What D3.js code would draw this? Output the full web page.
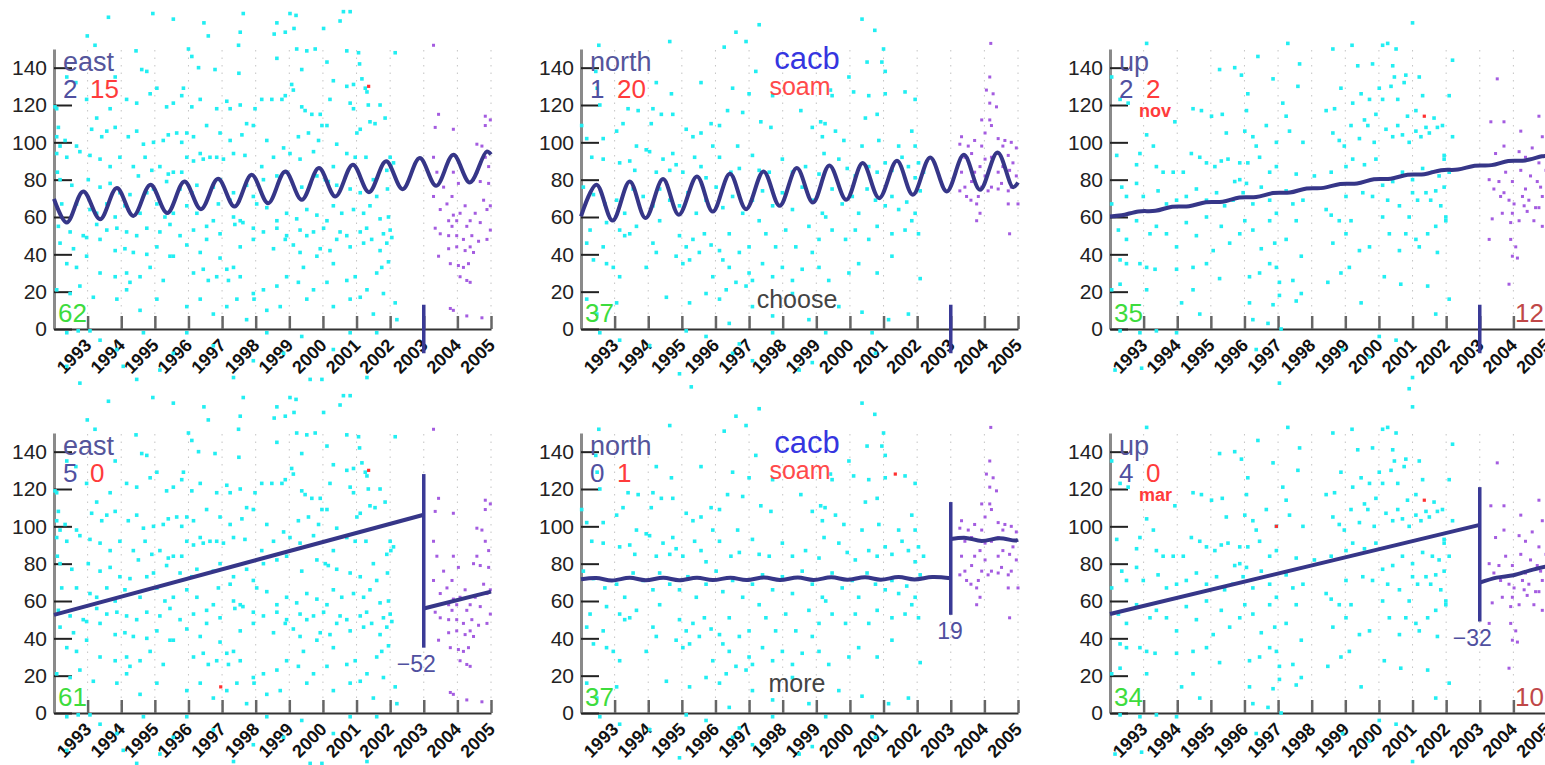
<!DOCTYPE html>
<html>
<head>
<meta charset="utf-8">
<script src="https://cdn.jsdelivr.net/npm/d3@7"></script>
<style>
  body { margin: 0; background: #fff; }
  svg { display: block; font-family: "Liberation Sans", Arial, sans-serif; }
</style>
</head>
<body>
<svg width="1545" height="765"></svg>
<script>
// tick labels
var yearTicks = [1993, 1994, 1995, 1996, 1997, 1998, 1999, 2000, 2001, 2002, 2003, 2004, 2005];
var valueTicks = [0, 20, 40, 60, 80, 100, 120, 140];

// east observations [decimal year, mm]
var eastCyan = [
  [1993.62,167],[1994.94,169],[1995.55,166],[1996.46,164],[1997.63,169],[1996.59,157],[1997.54,159],[1992.99,157],[1993.22,152],[1994.44,149],[1996.0,150],[1996.1,146],[1994.61,139],[1994.76,138],[1996.3,140],[1996.79,139],[1997.49,152],[1997.5,137],[1998.63,164],[1998.55,158],[1998.88,159],[1999.02,169],[1999.14,161],[1999.2,168],[1998.63,145],[1999.22,150],[1999.52,149],[1999.77,150],[2000.02,161],[2000.51,165],[2000.61,170],[2000.81,170],[2000.71,149],[2001.06,148],[2002.15,148],[2001.09,142],[1999.37,139],[2000.12,143],
  [1992.38,135],[1992.65,132],[1993.82,135],[1992.03,119],[1992.08,118],[1992.97,123],[1993.27,113],[1993.67,118],[1994.16,123],[1994.46,121],[1994.86,126],[1995.06,129],[1995.55,121],[1995.35,119],[1995.85,129],[1995.8,125],[1996.1,119],[1996.35,123],[1996.84,118],[1997.14,122],[1997.24,118],[1997.54,120],[1997.73,110],[1997.98,118],[1998.18,123],[1998.48,123],[1998.78,123],[1998.88,125],[1999.12,128],[1999.37,119],[1999.47,117],[1999.07,131],[1999.67,115],[1999.92,115],[1999.97,109],[2000.12,109],[2000.21,123],[2000.31,133],[2000.71,130],[2000.91,131],[2001.16,134],[2001.26,129],[2001.31,127],[2000.91,118],[2000.81,121],[2001.35,120],[2001.4,111],[2001.7,120],[2001.85,113],
  [1992.13,108],[1992.08,103],[1992.33,101],[1992.18,98],[1992.67,98],[1993.12,107],[1993.42,103],[1993.57,106],[1993.82,108],[1994.21,103],[1994.46,106],[1994.66,99],[1994.96,100],[1995.25,101],[1995.4,104],[1995.65,105],[1995.8,100],[1995.95,105],[1996.15,103],[1996.54,109],[1996.94,105],[1997.24,101],[1997.59,104],[1997.93,109],[1998.33,101],[1998.83,97],[1999.27,103],[1999.57,105],[1999.87,101],[2000.41,99],[2001.01,105],[2001.11,107],[2001.55,110],
  [1992.08,94],[1992.38,92],[1992.77,95],[1993.07,93],[1993.37,91],[1993.67,87],[1993.96,92],[1994.36,87],[1994.51,82],[1994.71,92],[1994.91,85],[1995.15,87],[1995.4,83],[1995.55,84],[1995.8,84],[1995.95,92],[1996.15,90],[1996.35,94],[1996.44,91],[1996.64,92],[1996.84,92],[1997.04,91],[1997.34,94],[1997.68,93],[1998.18,87],[1998.53,92],[1999.02,94],[1999.32,91],[1999.72,95],[2000.07,80],[2000.31,87],[2000.71,94],[2000.96,92],[2001.28,92],[2002.0,92],[2002.02,87],[2001.9,85],[2002.1,89],
  [1992.1,84],[1992.18,80],[1992.53,77],[1993.02,80],[1993.37,76],[1993.67,78],[1993.96,73],[1994.26,72],[1994.76,73],[1994.96,75],[1995.35,79],[1995.75,75],[1996.1,73],[1996.25,77],[1996.74,76],[1996.94,80],[1997.24,69],[1997.34,73],[1997.73,77],[1997.93,71],[1998.23,80],[1998.63,82],[1998.92,84],[1999.37,76],[1999.82,82],[2000.16,79],[2000.41,77],[2000.81,75],[2001.11,73],[2001.5,80],[2001.92,75],[2001.6,71],
  [1992.23,67],[1992.67,67],[1993.07,64],[1993.27,62],[1993.57,67],[1993.82,60],[1994.11,66],[1994.56,62],[1995.06,67],[1995.3,60],[1995.55,62],[1995.95,66],[1996.25,62],[1996.74,58],[1996.89,67],[1997.34,60],[1997.54,58],[1998.03,67],[1998.33,65],[1998.63,58],[1998.92,62],[1999.22,59],[1999.52,64],[1999.82,61],[2000.12,58],[2000.31,66],[2000.56,62],[2000.91,64],[2001.21,62],[2001.4,66],[2001.7,59],[2001.95,60],
  [1992.13,55],[1992.48,52],[1992.87,50],[1993.27,56],[1993.57,53],[1993.87,54],[1994.16,52],[1994.46,50],[1994.76,54],[1995.15,52],[1995.45,56],[1995.75,50],[1996.15,53],[1996.54,55],[1996.94,51],[1997.38,56],[1997.62,57],[1997.93,54],[1998.23,52],[1998.63,54],[1998.92,50],[1999.32,53],[1999.72,52],[2000.02,54],[2000.51,52],[2000.71,50],[2001.11,52],[2001.3,54],[2001.8,51],[2002.0,53],
  [1992.18,46],[1992.58,43],[1992.97,49],[1993.37,48],[1993.82,42],[1994.11,43],[1994.36,41],[1994.76,40],[1995.06,44],[1995.55,39],[1995.95,45],[1996.35,41],[1996.54,48],[1996.94,38],[1997.34,33],[1997.54,44],[1997.93,48],[1998.53,43],[1998.88,48],[1999.12,45],[1999.32,41],[1999.52,50],[1999.92,43],[2000.21,42],[2000.41,48],[2000.81,44],[2001.21,46],[2001.45,48],[2001.7,42],[2001.9,46],[2002.05,49],
  [1992.38,35],[1992.67,33],[1992.97,39],[1993.37,30],[1993.82,28],[1994.16,30],[1994.26,25],[1994.56,28],[1994.86,33],[1995.25,26],[1995.45,39],[1996.15,30],[1996.44,32],[1996.59,26],[1996.84,28],[1997.14,32],[1997.19,26],[1997.54,28],[1997.93,19],[1998.23,21],[1998.63,23],[1998.92,28],[1999.27,25],[1999.42,33],[1999.82,39],[2000.12,25],[2000.31,35],[2000.71,26],[2000.96,28],[2001.31,21],[2001.6,30],[2001.75,33],[2001.95,36],
  [1992.08,21],[1992.48,19],[1992.77,23],[1993.17,17],[1993.87,16],[1994.16,21],[1994.56,10],[1995.06,16],[1995.95,12],[1996.35,16],[1996.74,8],[1997.14,12],[1997.44,16],[1997.73,5],[1997.95,16],[1998.33,10],[1998.73,12],[1999.52,16],[1999.72,21],[2000.31,12],[2000.81,16],[2001.11,17],[2001.5,8],[2001.8,19],[2002.15,14],[2002.2,5],
  [1992.38,-2],[1992.72,-1],[1993.07,-1],[1993.37,-6],[1993.87,-11],[1994.06,-20],[1994.46,-27],[1995.15,-22],[1995.55,-13],[1995.95,-2],[1996.74,-9],[1997.34,-26],[1997.93,-17],[1998.33,-2],[1998.83,-13],[1999.62,-27],[1999.97,-27],[2000.31,-11],[2001.31,-26],[2001.6,-2],[2000.81,-2],[1999.37,-4],[1992.77,-29],[1992.38,-20],[1994.66,-2]
];
var eastPurple = [
  [2003.29,152],[2003.44,115],[2003.34,108],[2003.88,107],[2004.83,114],[2004.98,112],[2004.83,109],[2004.58,99],[2004.73,98],[2003.29,92],[2003.39,84],[2003.88,84],[2004.03,78],[2004.48,80],[2004.68,79],[2004.93,78],[2003.29,71],[2003.49,64],[2003.69,67],[2003.88,61],[2004.08,62],[2004.23,66],[2004.38,58],[2004.53,62],[2004.68,57],[2004.88,64],[2004.98,53],[2003.74,58],[2003.84,55],[2003.98,58],[2004.28,55],[2003.34,54],[2003.49,51],[2003.74,50],[2003.98,50],[2004.18,48],[2004.43,50],[2004.63,47],[2004.88,48],[2003.74,43],[2003.98,44],[2004.23,42],[2004.38,44],[2004.48,41],[2003.79,35],[2004.03,34],[2004.18,33],[2004.33,35],[2004.08,28],[2004.28,26],[2004.38,25],[2003.44,39],[2003.79,11],[2003.88,10],[2004.28,7],[2004.73,6],[2004.93,87],[2004.58,84],[2004.83,92],[2003.59,76],[2003.84,71],[2004.78,69],[2004.98,66]
];
var eastRedTop = [[2001.36,130]];
var eastRedBottom = [[2001.36,130],[1996.96,14]];

// north observations
var northCyan = [
  [1992.53,152],[1994.64,154],[1996.61,159],[1997.3,163],[1996.91,154],[1996.26,151],[2000.36,166],[2000.74,160],[2001.0,150],[2000.95,143],[2001.05,138],[2000.51,143],[1997.2,138],[1999.97,135],[1992.44,138],[1992.48,129],[2000.11,127],[2000.56,125],[2001.05,126],[2001.64,127],[2001.94,123],[1999.42,128],[1999.47,125],[1996.51,129],[1997.0,126],[1997.7,125],[1995.57,132],[1994.69,126],[1994.24,132],[1993.4,118],[1993.7,117],[1994.14,118],[1992.56,120],[1993.06,106],[1993.25,110],[1994.09,110],[1994.39,115],[1994.73,115],[1995.87,110],[1996.12,109],[1996.36,117],[1996.81,116],[1997.35,111],[1998.54,117],[1999.13,111],[1999.26,110],[2000.46,113],[2000.81,115],[2001.84,106],[1992.02,109],[1992.17,102],[1992.66,102],[1993.65,98],[1993.94,96],[1994.73,94],[1995.13,107],[1995.33,103],[1995.57,105],[1995.92,98],[1996.66,98],[1997.65,108],[1998.88,108],[1999.18,103],[1999.57,106],[1999.82,101],[2000.36,98],[2000.86,101],[2001.45,98],[2001.94,98],
  [1992.32,92],[1992.66,91],[1993.15,89],[1993.45,90],[1993.6,85],[1994.04,95],[1994.24,84],[1994.44,91],[1994.64,85],[1994.83,88],[1995.03,84],[1995.38,92],[1995.57,87],[1995.72,81],[1996.12,92],[1996.46,84],[1996.71,86],[1997.1,93],[1997.3,85],[1997.6,84],[1997.99,91],[1998.29,84],[1998.68,87],[1999.08,83],[1999.23,94],[1999.67,91],[1999.92,86],[2000.16,82],[2000.56,87],[2000.81,84],[2001.05,89],[2001.25,85],[2001.55,92],[2001.74,87],[2002.04,89],[2002.19,84],[2001.94,81],
  [1992.07,76],[1992.37,72],[1992.71,67],[1993.06,69],[1993.3,62],[1993.55,75],[1993.85,71],[1994.14,66],[1994.34,75],[1994.64,69],[1994.93,66],[1995.18,73],[1995.43,62],[1995.72,69],[1996.02,76],[1996.22,65],[1996.51,71],[1996.81,62],[1997.1,69],[1997.4,74],[1997.7,66],[1997.99,73],[1998.29,64],[1998.58,76],[1998.88,69],[1999.18,62],[1999.47,75],[1999.77,67],[2000.07,71],[2000.26,62],[2000.51,75],[2000.76,69],[2001.05,66],[2001.25,71],[2001.45,64],[2001.69,68],[2001.94,62],[2002.09,74],
  [1992.27,53],[1992.76,57],[1993.15,53],[1993.3,50],[1993.45,51],[1993.65,55],[1994.14,46],[1994.34,58],[1994.93,50],[1995.13,44],[1995.33,48],[1995.67,51],[1995.87,45],[1996.12,42],[1996.41,51],[1996.71,41],[1997.0,44],[1997.3,58],[1997.5,51],[1997.79,44],[1998.09,53],[1998.39,44],[1998.78,55],[1999.08,48],[1999.28,60],[1999.47,53],[1999.87,48],[2000.16,53],[2000.56,48],[2000.81,55],[2001.25,51],[2001.64,53],[2001.84,58],[2002.04,51],[1992.17,46],[1992.66,44],
  [1992.37,37],[1992.76,35],[1992.96,33],[1993.15,28],[1993.94,33],[1994.24,41],[1994.83,39],[1995.03,35],[1995.23,37],[1995.52,41],[1995.92,28],[1996.22,37],[1996.41,33],[1996.61,25],[1997.0,30],[1997.1,26],[1997.4,35],[1997.7,28],[1997.99,33],[1998.29,26],[1998.58,32],[1998.88,41],[1999.08,33],[1999.37,26],[1999.97,30],[2000.26,35],[2000.81,30],[2001.25,39],[2002.09,27],[1996.32,21],[1996.91,23],
  [1992.17,16],[1992.47,8],[1993.06,14],[1994.54,17],[1995.23,14],[1995.72,19],[1996.12,16],[1997.1,12],[1997.7,7],[1998.29,19],[1998.78,5],[1999.67,12],[2000.36,9],[2001.15,5],[2001.74,8],[1996.41,3],
  [1992.56,-2],[1993.15,-6],[1994.04,-9],[1995.13,-1],[1995.72,-4],[1996.51,-13],[1997.1,-17],[1997.7,-2],[1998.49,-22],[1998.88,-18],[1999.28,-2],[2000.66,-2],[2000.76,-13],[1994.93,-24],[1995.28,-31],[1996.71,-8]
];
var northPurple = [
  [2004.19,153],[2004.16,135],[2004.06,128],[2004.26,126],[2004.16,121],[2004.36,119],[2003.92,112],[2004.16,112],[2004.21,109],[2004.02,105],[2004.41,102],[2004.61,101],[2004.8,100],[2003.32,103],[2003.27,99],[2003.52,98],[2003.71,101],[2003.92,98],[2004.55,98],[2004.95,97],[2004.41,94],[2004.71,93],[2003.42,92],[2003.62,94],[2004.02,91],[2004.21,92],[2003.87,87],[2004.55,87],[2004.85,89],[2003.32,84],[2003.71,84],[2004.02,82],[2004.41,84],[2004.75,85],[2004.95,82],[2003.42,76],[2003.62,79],[2003.92,76],[2004.21,76],[2004.51,78],[2004.8,76],[2003.27,74],[2003.47,71],[2003.82,71],[2004.11,74],[2004.41,75],[2004.71,74],[2003.77,67],[2003.87,62],[2005.0,67],[2004.71,67],[2003.77,58],[2004.75,51],[2003.6,69]
];
var northRedTop = [];
var northRedBottom = [[2001.35,128]];

// up observations
var upCyan = [
  [1993.09,153],[1997.29,153],[1996.4,146],[1998.63,150],[1999.2,152],[2000.11,152],[2000.26,153],[2000.51,150],[2001.0,164],[2002.19,144],[1995.26,139],[1995.71,140],[1995.91,136],[1996.85,134],[1997.64,142],[1999.37,141],[1999.81,142],[2000.41,141],[2000.46,135],[2000.8,136],[2001.2,135],[2000.36,130],[2000.01,129],[2000.75,132],[1998.87,129],[1997.59,130],[1996.1,126],[2002.09,125],[2001.3,125],[1999.47,126],[1999.72,123],[1999.22,121],[2000.11,123],[2000.56,123],
  [1992.05,135],[1992.3,123],[1992.54,121],[1993.09,104],[1993.93,111],[1994.47,118],[1994.72,117],[1995.02,114],[1995.34,115],[1995.46,105],[1996.01,106],[1996.06,117],[1996.25,103],[1996.35,98],[1996.65,109],[1996.95,100],[1997.14,121],[1997.24,114],[1997.34,106],[1997.74,100],[1998.43,117],[1998.68,118],[1998.63,105],[1998.82,101],[1998.97,98],[1999.17,109],[1999.42,102],[1999.57,112],[1999.67,109],[1999.86,100],[1999.91,115],[2000.21,107],[2000.41,103],[2000.56,109],[2000.7,104],[2000.9,100],[2001.1,106],[2001.25,103],[2001.4,108],[2001.5,105],[2001.64,113],[2001.74,108],[2001.89,109],[2002.19,103],[2000.85,114],[2001.1,117],
  [1992.2,93],[1992.89,94],[1993.29,98],[1992.79,88],[1993.38,87],[1993.58,84],[1993.88,84],[1994.18,84],[1994.42,94],[1994.67,92],[1994.87,89],[1995.12,87],[1995.31,90],[1995.51,91],[1995.86,89],[1996.1,89],[1996.45,92],[1995.86,80],[1996.06,78],[1995.71,79],[1996.75,84],[1996.95,87],[1997.54,83],[1998.08,82],[1998.58,84],[1999.02,87],[1999.22,91],[1999.57,88],[1999.91,91],[2000.7,84],[2001.0,80],[2001.3,86],[2001.59,84],[2001.79,82],[2001.94,91],[2002.09,84],[2001.94,93],
  [1992.05,67],[1992.35,76],[1992.79,78],[1992.49,71],[1992.99,71],[1993.43,74],[1993.68,67],[1993.98,69],[1994.27,71],[1994.57,75],[1994.87,69],[1995.17,73],[1995.41,66],[1995.66,69],[1995.96,73],[1996.25,67],[1996.5,76],[1996.75,69],[1996.95,62],[1997.24,74],[1997.44,67],[1997.74,69],[1998.43,64],[1998.58,61],[1999.02,71],[1999.52,73],[1999.81,71],[2000.11,77],[2000.26,69],[2000.41,79],[2000.61,66],[2001.0,73],[2001.15,69],[2001.4,73],[2001.54,69],[2001.69,74],[2001.84,66],[2001.94,76],[2001.99,60],
  [1992.25,53],[1992.49,48],[1992.79,58],[1993.19,51],[1993.38,55],[1993.68,51],[1993.98,44],[1994.27,57],[1994.57,50],[1994.87,60],[1995.07,42],[1995.31,55],[1995.56,46],[1995.86,51],[1996.01,58],[1996.25,53],[1996.5,43],[1996.75,58],[1996.9,46],[1997.24,48],[1997.54,58],[1997.69,39],[1998.63,46],[1998.82,58],[1999.02,51],[1999.17,58],[1999.42,42],[1999.72,44],[2000.11,60],[2000.31,51],[2000.61,42],[2000.8,51],[2000.9,60],[2001.1,48],[2001.45,51],[2001.69,55],[2001.99,58],[2001.2,44],[2001.74,41],
  [1992.3,37],[1992.49,35],[1992.89,35],[1993.09,33],[1993.34,32],[1993.98,32],[1994.47,33],[1994.87,35],[1995.26,27],[1996.15,28],[1996.45,30],[1996.75,35],[1996.95,33],[1997.04,25],[1997.44,26],[1997.69,19],[1998.48,25],[1998.87,30],[1999.12,33],[2000.16,28],[2000.65,24],[2001.45,23],[1992.05,21],[1992.3,24],
  [1993.09,21],[1994.13,14],[1994.47,21],[1996.15,14],[1996.85,13],[1997.04,18],[1997.54,15],[1999.47,14],[2002.09,16],[2001.69,8],[1994.67,8],[1996.25,5],[1996.7,3],[1997.09,0],
  [1992.3,-1],[1992.89,-2],[1993.38,-1],[1993.98,-2],[1992.15,-22],[1992.94,-21],[1997.04,-29],[2001.0,-26],[2000.9,-32],[1998.92,-11],[1999.72,-15],[1996.35,-11],[2000.01,-4],[2000.51,-6]
];
var upPurple = [
  [2003.52,134],[2003.33,111],[2003.72,111],[2004.22,106],[2004.76,114],[2004.86,103],[2003.47,94],[2003.72,98],[2004.17,95],[2004.36,92],[2004.56,97],[2004.76,89],[2003.28,80],[2003.42,75],[2003.77,84],[2003.97,79],[2004.22,85],[2004.36,75],[2004.51,82],[2004.71,79],[2004.81,76],[2003.62,71],[2003.87,69],[2004.02,67],[2004.27,71],[2004.46,69],[2004.66,65],[2004.86,71],[2003.37,59],[2003.67,62],[2003.97,62],[2004.17,58],[2004.41,63],[2004.61,58],[2003.92,57],[2003.28,48],[2003.92,48],[2004.07,44],[2003.97,39],[2004.12,38],[2003.87,24],[2004.86,55],[2004.76,65],[2004.32,66],[2003.72,73],[2003.57,79],[2004.97,85],[2004.99,72]
];
var upRedTop = [[2001.35,114]];
var upRedBottom = [[2001.35,114],[1996.95,100]];

// fitted models, read at extrema / end points
var eastWave = [[1992.0,69.7],[1992.38,57.0],[1992.87,73.7],[1993.37,58.8],[1993.87,75.5],[1994.36,60.6],[1994.87,77.3],[1995.37,62.1],[1995.88,79.0],[1996.37,64.2],[1996.88,80.5],[1997.37,65.6],[1997.88,82.6],[1998.37,67.4],[1998.88,84.4],[1999.37,69.2],[1999.88,86.2],[2000.37,71.0],[2000.89,88.0],[2001.37,73.3],[2001.88,89.8],[2002.37,74.9],[2002.88,91.6],[2003.37,76.7],[2003.88,93.3],[2004.37,78.5],[2004.87,95.0],[2005.0,93.5]];
var northWave = [[1992.0,60.3],[1992.46,77.3],[1992.94,58.1],[1993.45,79.0],[1993.92,59.4],[1994.44,80.3],[1994.91,61.2],[1995.45,81.7],[1995.92,62.9],[1996.43,83.2],[1996.91,64.2],[1997.43,84.4],[1997.91,66.0],[1998.42,86.2],[1998.9,67.8],[1999.39,87.6],[1999.89,69.2],[2000.38,88.9],[2000.87,70.1],[2001.4,90.1],[2001.87,71.9],[2002.39,91.9],[2002.88,73.7],[2003.39,93.3],[2003.87,74.6],[2004.39,94.6],[2004.85,76.0],[2005.0,78.5]];
var upWave = [[1992.0,60.3],[1992.35,60.9],[1992.85,63.0],[1993.35,63.3],[1993.85,65.5],[1994.35,65.8],[1994.85,67.9],[1995.35,68.2],[1995.85,70.4],[1996.35,70.7],[1996.85,72.8],[1997.35,73.1],[1997.85,75.3],[1998.35,75.6],[1998.85,77.7],[1999.35,78.0],[1999.85,80.2],[2000.35,80.5],[2000.85,82.6],[2001.35,82.9],[2001.85,85.1],[2002.35,85.4],[2002.85,87.5],[2003.35,87.8],[2003.85,90.0],[2004.35,90.3],[2004.85,92.5],[2005.0,92.8]];
var eastBefore = [[1992.0,52.6],[2003.0,106.2]];
var eastAfter = [[2003.0,56.0],[2005.0,65.0]];
var northBefore = [[1992.0,71.6],[1992.45,72.3],[1992.92,71.0],[1993.45,72.4],[1993.92,71.1],[1994.45,72.4],[1994.92,71.1],[1995.45,72.5],[1995.92,71.2],[1996.45,72.5],[1996.92,71.2],[1997.45,72.6],[1997.92,71.3],[1998.45,72.6],[1998.92,71.3],[1999.45,72.7],[1999.92,71.4],[2000.45,72.7],[2000.92,71.4],[2001.45,72.8],[2001.92,71.5],[2002.45,72.8],[2003.0,72.2]];
var northAfter = [[2003.0,93.2],[2003.45,93.8],[2003.92,92.2],[2004.45,93.6],[2004.92,92.4],[2005.0,92.8]];
var upBefore = [[1992.0,53.0],[2003.0,100.8]];
var upAfter = [[2003.0,69.8],[2003.5,72.5],[2004.0,73.8],[2004.5,76.4],[2005.0,78.6]];

// vertical marks at 2003 [top, bottom]
var breakSpan = [13, -13];
var eastJump = [128, 35];
var northJump = [113, 52.6];
var upJump = [121, 49];

var colX = [54, 581, 1110];
var rowY = [329, 713];

var panels = [
  {row: 0, col: 0, name: "east", cyan: eastCyan, purple: eastPurple, red: eastRedTop, fits: [eastWave], span: breakSpan, counts: ["2", "15"], green: "62"},
  {row: 0, col: 1, name: "north", cyan: northCyan, purple: northPurple, red: northRedTop, fits: [northWave], span: breakSpan, counts: ["1", "20"], green: "37", site: true, note: "choose"},
  {row: 0, col: 2, name: "up", cyan: upCyan, purple: upPurple, red: upRedTop, fits: [upWave], span: breakSpan, counts: ["2", "2"], green: "35", month: "nov", right: "12"},
  {row: 1, col: 0, name: "east", cyan: eastCyan, purple: eastPurple, red: eastRedBottom, fits: [eastBefore, eastAfter], span: eastJump, jump: "\u221252", counts: ["5", "0"], green: "61"},
  {row: 1, col: 1, name: "north", cyan: northCyan, purple: northPurple, red: northRedBottom, fits: [northBefore, northAfter], span: northJump, jump: "19", counts: ["0", "1"], green: "37", site: true, note: "more"},
  {row: 1, col: 2, name: "up", cyan: upCyan, purple: upPurple, red: upRedBottom, fits: [upBefore, upAfter], span: upJump, jump: "\u221232", counts: ["4", "0"], green: "34", month: "mar", right: "10"}
];

var svg = d3.select("svg");
var x = d3.scaleLinear().domain([1992, 2005]).range([0, 437]);
var y = d3.scaleLinear().domain([0, 150]).range([280, 0]);
var fitLine = d3.line()
  .x(function(d) { return x(d[0]); })
  .y(function(d) { return y(d[1]); })
  .curve(d3.curveCatmullRom.alpha(0.5));

function dots(g, data, color, size) {
  g.append("g").selectAll("rect").data(data).join("rect")
    .attr("x", function(d) { return x(d[0]) - size / 2; })
    .attr("y", function(d) { return y(d[1]) - size / 2; })
    .attr("width", size)
    .attr("height", size)
    .attr("fill", color);
}

panels.forEach(function(p) {
  var g = svg.append("g")
    .attr("transform", "translate(" + colX[p.col] + "," + (rowY[p.row] - 280) + ")");

  // dotted year grid
  g.append("g").selectAll("line").data(yearTicks).join("line")
    .attr("x1", function(d) { return x(d); })
    .attr("x2", function(d) { return x(d); })
    .attr("y1", y(0))
    .attr("y2", y(150))
    .attr("stroke", "#c4c4c4")
    .attr("stroke-dasharray", "1.5,6");

  // x axis
  var xa = g.append("g")
    .attr("transform", "translate(0," + y(0) + ")")
    .call(d3.axisBottom(x).tickValues(yearTicks).tickSize(-13).tickSizeOuter(0)
      .tickFormat(function(d) { return d; }));
  xa.select(".domain").attr("stroke", "#333").attr("stroke-width", 2);
  xa.selectAll(".tick line").attr("stroke", "#666").attr("stroke-width", 2.5);
  xa.selectAll(".tick text")
    .attr("x", 0).attr("y", 0).attr("dy", "0.35em")
    .attr("text-anchor", "end")
    .attr("transform", "translate(0,13) rotate(-45)")
    .attr("fill", "#111")
    .style("font-size", "18px")
    .style("font-weight", "bold");

  // y axis
  var ya = g.append("g")
    .call(d3.axisLeft(y).tickValues(valueTicks).tickSize(-18).tickSizeOuter(0).tickPadding(7));
  ya.select(".domain").attr("stroke", "#8a8a8a").attr("stroke-width", 3);
  ya.selectAll(".tick line").attr("stroke", "#222").attr("stroke-width", 2);
  ya.selectAll(".tick text").attr("fill", "#222").style("font-size", "21px");

  // observations
  dots(g, p.cyan, "#22eef2", 3.6);
  dots(g, p.purple, "#a45ce0", 3);
  dots(g, p.red, "#ff3030", 3.2);

  // model
  p.fits.forEach(function(f) {
    g.append("path")
      .datum(f)
      .attr("fill", "none")
      .attr("stroke", "#363688")
      .attr("stroke-width", 4)
      .attr("stroke-linejoin", "round")
      .attr("d", fitLine);
  });
  g.append("line")
    .attr("x1", x(2003)).attr("x2", x(2003))
    .attr("y1", y(p.span[0])).attr("y2", y(p.span[1]))
    .attr("stroke", "#3a3a96")
    .attr("stroke-width", 3.5);
  if (p.jump) {
    g.append("text")
      .attr("x", x(2003) + 12)
      .attr("y", y(p.span[1]) + 24)
      .attr("text-anchor", "end")
      .attr("fill", "#5050a0")
      .style("font-size", "23px")
      .text(p.jump);
  }

  // labels
  g.append("text").attr("x", 9).attr("y", 22)
    .attr("fill", "#55559b").style("font-size", "27px").text(p.name);
  g.append("text").attr("x", 9).attr("y", 49)
    .attr("fill", "#5050a0").style("font-size", "26px").text(p.counts[0]);
  g.append("text").attr("x", 36).attr("y", 49)
    .attr("fill", "#ff3b3b").style("font-size", "26px").text(p.counts[1]);
  g.append("text").attr("x", 4).attr("y", y(0) - 7)
    .attr("fill", "#3ddc3d").style("font-size", "26px").text(p.green);
  if (p.month) {
    g.append("text").attr("x", 29).attr("y", 68)
      .attr("fill", "#ff3b3b").style("font-size", "18px").style("font-weight", "bold").text(p.month);
  }
  if (p.right) {
    g.append("text").attr("x", 405).attr("y", y(0) - 7)
      .attr("fill", "#c04848").style("font-size", "26px").text(p.right);
  }
  if (p.site) {
    g.append("text").attr("x", 226).attr("y", 20).attr("text-anchor", "middle")
      .attr("fill", "#3535e0").style("font-size", "31px").text("cacb");
    g.append("text").attr("x", 219).attr("y", 46).attr("text-anchor", "middle")
      .attr("fill", "#ff4a4a").style("font-size", "25px").text("soam");
    g.append("text").attr("x", 216).attr("y", y(0) - 21).attr("text-anchor", "middle")
      .attr("fill", "#444").style("font-size", "25px").text(p.note);
  }
});
</script>
</body>
</html>
